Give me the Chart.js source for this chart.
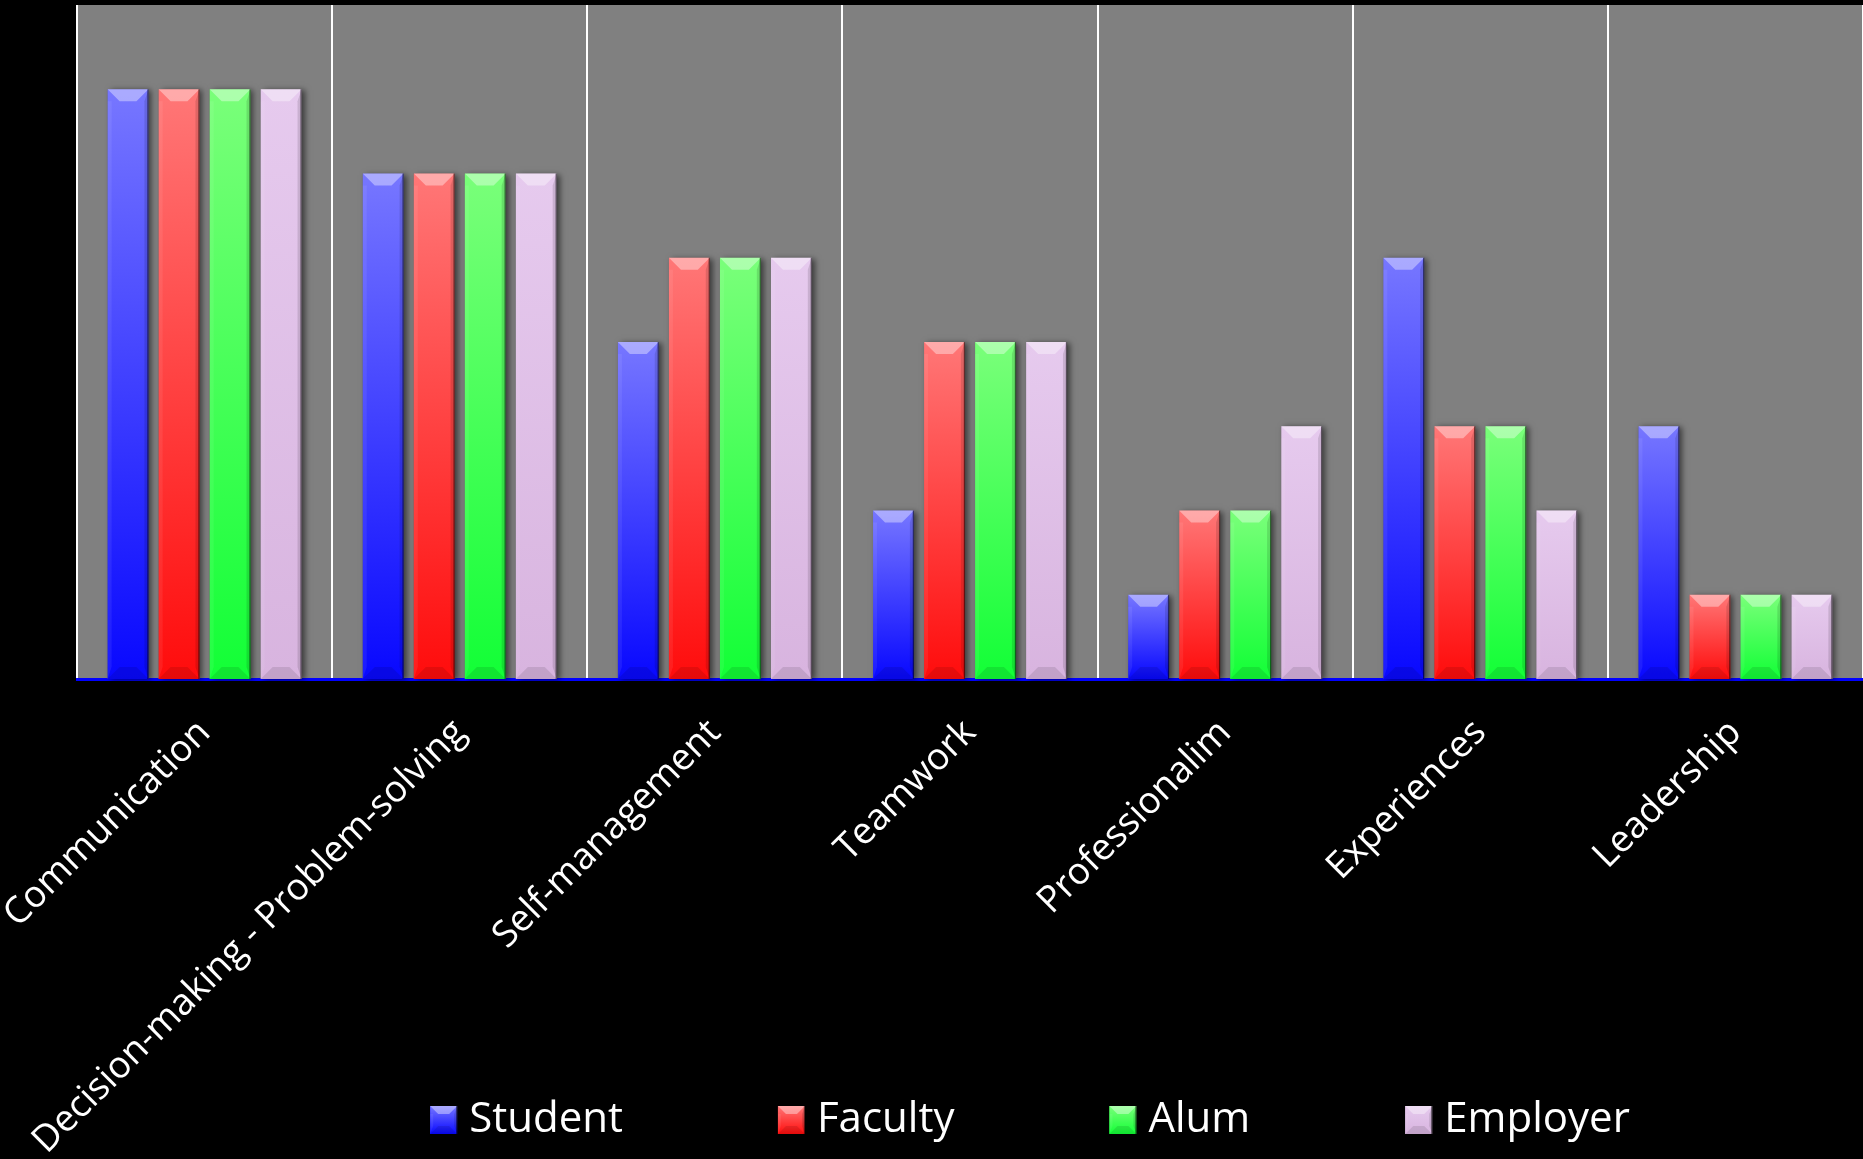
<!DOCTYPE html>
<html><head><meta charset="utf-8">
<script src="https://cdn.jsdelivr.net/npm/chart.js@4.4.1/dist/chart.umd.min.js"></script>
<style>html,body{margin:0;padding:0;background:#000;overflow:hidden}#wrap{width:1863px;height:1159px;position:relative;background:#000}</style>
</head><body><div id="wrap"><canvas id="c" width="1863" height="1159"></canvas></div>
<script>
// ---- data ----
const categories = ['Communication', 'Decision-making - Problem-solving', 'Self-management', 'Teamwork', 'Professionalim', 'Experiences', 'Leadership'];
const seriesNames = ['Student', 'Faculty', 'Alum', 'Employer'];
const student  = [7, 6, 4, 2, 1, 5, 3];
const faculty  = [7, 6, 5, 4, 2, 3, 1];
const alum     = [7, 6, 5, 4, 2, 3, 1];
const employer = [7, 6, 5, 4, 3, 2, 1];
const yMin = 0, yMax = 8;

// ---- styles ----
const colorStops = {
  Student:  ['#7777ff', '#0808ff', '#3c3cff'],
  Faculty:  ['#ff7777', '#ff0c0c', '#ff4040'],
  Alum:     ['#7aff7a', '#12ff36', '#44ff55'],
  Employer: ['#e6caee', '#d8b4df', '#dfbde6']
};
const LEG_SHIFT_X = 60;
const LEG_SHIFT_Y = -8;
const LEG_BOX_W = 27;

function gradFill(stops){
  return function(c){
    const ch = c.chart;
    if (c.type !== 'data' || !ch.chartArea || !ch.scales || !ch.scales.y) return stops[2];
    const ys = ch.scales.y;
    const top = ys.getPixelForValue(c.raw), bot = ys.getPixelForValue(0);
    if (!isFinite(top) || !isFinite(bot) || Math.abs(bot - top) < 1) return stops[2];
    const g = ch.ctx.createLinearGradient(0, top, 0, bot);
    g.addColorStop(0, stops[0]);
    g.addColorStop(1, stops[1]);
    return g;
  };
}

function poly(ctx, pts, fill){
  ctx.beginPath();
  ctx.moveTo(pts[0][0], pts[0][1]);
  for (let i = 1; i < pts.length; i++) ctx.lineTo(pts[i][0], pts[i][1]);
  ctx.closePath();
  ctx.fillStyle = fill;
  ctx.fill();
}

function bevel(ctx, l, t, w, h, b, s){
  b = Math.min(b, w / 2, h / 2);
  s = Math.min(s, w / 2);
  const r = l + w, bt = t + h;
  ctx.save();
  poly(ctx, [[l, t + b], [l + s, t + b], [l + s, bt - b], [l, bt]], 'rgba(255,255,255,0.07)');
  poly(ctx, [[r, t], [r, bt], [r - s, bt - b], [r - s, t + b]], 'rgba(0,0,0,0.12)');
  poly(ctx, [[l, t], [r, t], [r - b, t + b], [l + b, t + b]], 'rgba(255,255,255,0.38)');
  poly(ctx, [[l, bt], [r, bt], [r - b, bt - b], [l + b, bt - b]], 'rgba(0,0,0,0.10)');
  ctx.strokeStyle = 'rgba(0,0,0,0.55)';
  ctx.lineWidth = 1.2;
  ctx.beginPath(); ctx.moveTo(r - 0.5, t); ctx.lineTo(r - 0.5, bt); ctx.stroke();
  ctx.restore();
}

const decor = {
  id: 'decor',
  afterLayout(chart){
    const lg = chart.legend;
    if (lg) {
      lg.left += LEG_SHIFT_X; lg.right += LEG_SHIFT_X;
      lg.top += LEG_SHIFT_Y; lg.bottom += LEG_SHIFT_Y;
    }
  },
  beforeDraw(chart){
    const a = chart.chartArea, ctx = chart.ctx;
    ctx.save();
    ctx.fillStyle = '#000000';
    ctx.fillRect(0, 0, chart.width, chart.height);
    ctx.fillStyle = '#808080';
    ctx.fillRect(a.left, a.top, a.right - a.left, a.bottom - a.top);
    ctx.restore();
  },
  beforeDatasetsDraw(chart){
    const ctx = chart.ctx;
    chart.data.datasets.forEach((ds, i) => {
      chart.getDatasetMeta(i).data.forEach(el => {
        const l = el.x - el.width / 2, t = Math.min(el.y, el.base), h = Math.abs(el.base - el.y);
        ctx.save();
        ctx.shadowColor = 'rgba(0,0,0,0.55)';
        ctx.shadowBlur = 6;
        ctx.shadowOffsetX = 3;
        ctx.shadowOffsetY = 1;
        ctx.fillStyle = '#606060';
        ctx.fillRect(l, t, el.width, h);
        ctx.restore();
      });
    });
  },
  afterDatasetsDraw(chart){
    const ctx = chart.ctx;
    chart.data.datasets.forEach((ds, i) => {
      chart.getDatasetMeta(i).data.forEach(el => {
        const l = el.x - el.width / 2, t = Math.min(el.y, el.base), h = Math.abs(el.base - el.y);
        bevel(ctx, l, t, el.width, h, 12, 4);
      });
    });
  },
  afterDraw(chart){
    const lg = chart.legend;
    if (!lg || !lg.legendHitBoxes) return;
    const ctx = chart.ctx;
    const lo = lg.options.labels;
    const fs = lo.font.size, bh = lo.boxHeight;
    lg.legendHitBoxes.forEach((hb, i) => {
      const stops = colorStops[seriesNames[i]];
      const x = hb.left, y = hb.top + Math.max((fs - bh) / 2, 0);
      const g = ctx.createLinearGradient(0, y, 0, y + bh);
      g.addColorStop(0, stops[0]); g.addColorStop(1, stops[1]);
      ctx.save();
      ctx.fillStyle = g;
      ctx.fillRect(x, y, LEG_BOX_W, bh);
      ctx.restore();
      bevel(ctx, x, y, LEG_BOX_W, bh, 8, 3);
    });
  }
};

const seriesData = [student, faculty, alum, employer];
const datasets = seriesNames.map((name, i) => ({
  label: name,
  data: seriesData[i],
  backgroundColor: gradFill(colorStops[name]),
  borderWidth: 0,
  categoryPercentage: 0.8,
  barPercentage: 0.8
}));

new Chart(document.getElementById('c'), {
  type: 'bar',
  data: { labels: categories, datasets },
  plugins: [decor],
  options: {
    responsive: false,
    animation: false,
    devicePixelRatio: 1,
    layout: { padding: { top: 5, left: 77, right: 0, bottom: 0 } },
    scales: {
      x: {
        offset: true,
        grid: { color: '#ffffff', lineWidth: 2, drawTicks: false, offset: true },
        border: { color: '#0000ff', width: 3 },
        ticks: {
          color: '#ffffff',
          font: { family: "'Open Sans', 'Noto Sans', sans-serif", size: 37 },
          minRotation: 45, maxRotation: 45, autoSkip: false, padding: 32
        },
        afterFit(scale){
          scale.height = 273; scale.paddingLeft = 0; scale.paddingRight = 0;
          scale._computeLabelArea = function(){ return undefined; };
        }
      },
      y: { display: false, min: yMin, max: yMax }
    },
    plugins: {
      tooltip: { enabled: false },
      legend: {
        position: 'bottom',
        labels: {
          color: '#ffffff',
          font: { family: "'Open Sans', 'Noto Sans', sans-serif", size: 42 },
          boxWidth: 18, boxHeight: 28, padding: 155
        }
      }
    }
  }
});
</script></body></html>
